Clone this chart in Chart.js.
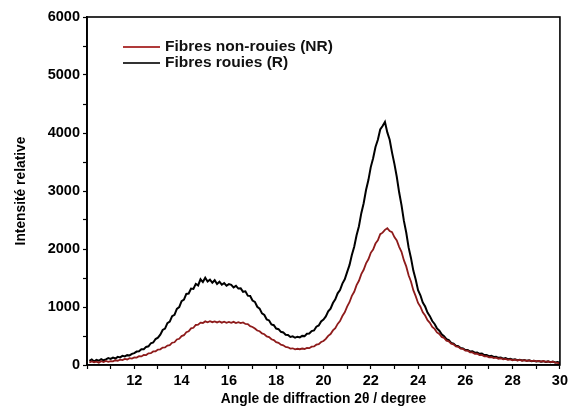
<!DOCTYPE html>
<html>
<head>
<meta charset="utf-8">
<script src="https://cdn.jsdelivr.net/npm/chart.js@4/dist/chart.umd.min.js"></script>
<style>
  html, body { margin: 0; padding: 0; background: #fff; }
  #wrap { position: relative; width: 571px; height: 412px; }
  #legend { position: absolute; left: 123px; top: 38px; font: bold 15.5px "Liberation Sans", Arial, sans-serif; color: #111; }
  #legend .item { height: 16px; line-height: 16px; white-space: nowrap; position: relative; padding-left: 42px; }
  #legend .swatch { position: absolute; left: 0; top: 8px; width: 37px; height: 1.5px; }
</style>
</head>
<body>
<div id="wrap">
  <canvas id="xrdChart" width="571" height="412"></canvas>
  <div id="legend">
    <div class="item"><span class="swatch" style="background:#b03a3a"></span>Fibres non-rouies (NR)</div>
    <div class="item"><span class="swatch" style="background:#333"></span>Fibres rouies (R)</div>
  </div>
</div>
<script>
// diffraction angle 2θ (degrees)
const angles = [
  10.1, 10.2, 10.3, 10.4, 10.5, 10.6, 10.7, 10.8, 10.9, 11.0,
  11.1, 11.2, 11.3, 11.4, 11.5, 11.6, 11.7, 11.8, 11.9, 12.0,
  12.1, 12.2, 12.3, 12.4, 12.5, 12.6, 12.7, 12.8, 12.9, 13.0,
  13.1, 13.2, 13.3, 13.4, 13.5, 13.6, 13.7, 13.8, 13.9, 14.0,
  14.1, 14.2, 14.3, 14.4, 14.5, 14.6, 14.7, 14.8, 14.9, 15.0,
  15.1, 15.2, 15.3, 15.4, 15.5, 15.6, 15.7, 15.8, 15.9, 16.0,
  16.1, 16.2, 16.3, 16.4, 16.5, 16.6, 16.7, 16.8, 16.9, 17.0,
  17.1, 17.2, 17.3, 17.4, 17.5, 17.6, 17.7, 17.8, 17.9, 18.0,
  18.1, 18.2, 18.3, 18.4, 18.5, 18.6, 18.7, 18.8, 18.9, 19.0,
  19.1, 19.2, 19.3, 19.4, 19.5, 19.6, 19.7, 19.8, 19.9, 20.0,
  20.1, 20.2, 20.3, 20.4, 20.5, 20.6, 20.7, 20.8, 20.9, 21.0,
  21.1, 21.2, 21.3, 21.4, 21.5, 21.6, 21.7, 21.8, 21.9, 22.0,
  22.1, 22.2, 22.3, 22.4, 22.5, 22.6, 22.7, 22.8, 22.9, 23.0,
  23.1, 23.2, 23.3, 23.4, 23.5, 23.6, 23.7, 23.8, 23.9, 24.0,
  24.1, 24.2, 24.3, 24.4, 24.5, 24.6, 24.7, 24.8, 24.9, 25.0,
  25.1, 25.2, 25.3, 25.4, 25.5, 25.6, 25.7, 25.8, 25.9, 26.0,
  26.1, 26.2, 26.3, 26.4, 26.5, 26.6, 26.7, 26.8, 26.9, 27.0,
  27.1, 27.2, 27.3, 27.4, 27.5, 27.6, 27.7, 27.8, 27.9, 28.0,
  28.1, 28.2, 28.3, 28.4, 28.5, 28.6, 28.7, 28.8, 28.9, 29.0,
  29.1, 29.2, 29.3, 29.4, 29.5, 29.6, 29.7, 29.8, 29.9, 30.0
];

// Fibres non-rouies (NR)
const intensityNR = [
  42, 62, 48, 58, 40, 66, 52, 70, 56, 68,
  62, 82, 74, 92, 84, 104, 96, 118, 110, 130,
  128, 152, 148, 174, 172, 202, 204, 234, 236, 266,
  270, 300, 302, 336, 342, 384, 392, 440, 452, 498,
  514, 566, 580, 632, 642, 690, 694, 730, 724, 752,
  736, 756, 738, 752, 734, 750, 730, 746, 728, 742,
  726, 744, 724, 738, 722, 734, 708, 706, 670, 656,
  630, 594, 582, 544, 530, 494, 482, 444, 430, 394,
  382, 350, 340, 312, 306, 284, 288, 270, 280, 272,
  284, 276, 294, 290, 316, 320, 350, 360, 396, 414,
  450, 502, 534, 596, 634, 708, 758, 844, 908, 1008,
  1082, 1192, 1262, 1376, 1452, 1566, 1642, 1752, 1822, 1934,
  1992, 2094, 2150, 2256, 2282, 2330, 2360, 2310, 2292, 2206,
  2148, 2038, 1952, 1808, 1700, 1548, 1440, 1290, 1188, 1070,
  1004, 908, 852, 772, 728, 658, 622, 562, 534, 484,
  466, 420, 408, 368, 356, 322, 314, 284, 278, 248,
  246, 220, 218, 194, 194, 170, 172, 150, 152, 132,
  138, 118, 126, 108, 116, 98, 106, 90, 98, 82,
  92, 78, 88, 74, 84, 70, 80, 66, 76, 62,
  72, 58, 68, 54, 62, 50, 56, 42, 38, 22
];

// Fibres rouies (R)
const intensityR = [
  72, 95, 60, 88, 74, 102, 81, 96, 118, 104,
  128, 112, 140, 131, 158, 149, 170, 166, 192, 205,
  232, 236, 270, 272, 312, 322, 375, 388, 448, 470,
  522, 604, 628, 722, 748, 842, 866, 968, 998, 1102,
  1128, 1226, 1232, 1318, 1312, 1398, 1372, 1478, 1430, 1505,
  1440, 1472, 1418, 1462, 1398, 1436, 1384, 1412, 1366, 1394,
  1382, 1338, 1364, 1318, 1322, 1262, 1270, 1196, 1190, 1112,
  1088, 1004, 972, 890, 862, 786, 768, 700, 686, 628,
  618, 572, 562, 522, 516, 484, 494, 470, 488, 476,
  502, 498, 540, 542, 584, 596, 660, 682, 752, 784,
  838, 924, 972, 1068, 1132, 1236, 1292, 1404, 1478, 1602,
  1722, 1896, 2040, 2238, 2392, 2618, 2790, 3016, 3188, 3412,
  3566, 3760, 3884, 4060, 4120, 4190, 4010, 3884, 3662, 3468,
  3246, 2978, 2756, 2488, 2284, 2028, 1846, 1628, 1474, 1290,
  1202, 1078, 1008, 904, 842, 758, 708, 632, 592, 528,
  498, 446, 428, 382, 370, 334, 324, 292, 286, 258,
  260, 232, 236, 212, 214, 192, 196, 172, 174, 152,
  158, 138, 142, 124, 128, 110, 118, 100, 108, 90,
  98, 84, 92, 78, 86, 72, 80, 66, 74, 60,
  70, 56, 66, 52, 62, 48, 58, 44, 50, 40
];

const xMin = 10, xMax = 30;
const yMin = 0, yMax = 6000;

const FONT = '"Liberation Sans", Arial, sans-serif';

function toPoints(values) {
    return angles.map((a, i) => ({ x: a, y: values[i] }));
}

// draw the closed frame around the plot area
const framePlugin = {
    id: 'frame',
    afterDatasetsDraw(chart) {
        const { ctx, chartArea: a } = chart;
        ctx.save();
        ctx.strokeStyle = '#000';
        ctx.lineWidth = 1.6;
        ctx.strokeRect(a.left, a.top, a.right - a.left, a.bottom - a.top);
        ctx.restore();
    }
};

const ctx = document.getElementById('xrdChart');
new Chart(ctx, {
    type: 'line',
    data: {
        datasets: [
            {
                label: 'Fibres non-rouies (NR)',
                data: toPoints(intensityNR),
                borderColor: '#8e1b1b',
                borderWidth: 1.8,
                pointRadius: 0,
                tension: 0
            },
            {
                label: 'Fibres rouies (R)',
                data: toPoints(intensityR),
                borderColor: '#000',
                borderWidth: 2,
                pointRadius: 0,
                tension: 0
            }
        ]
    },
    options: {
        responsive: false,
        animation: false,
        layout: { padding: { left: 0, top: 17, right: 11, bottom: 0 } },
        plugins: {
            legend: { display: false },
            tooltip: { enabled: false }
        },
        scales: {
            x: {
                type: 'linear',
                min: xMin,
                max: xMax,
                afterFit(scale) { scale.height = 47; },
                border: { display: true, color: '#000', width: 1.6 },
                grid: { drawOnChartArea: false, drawTicks: true, tickLength: 4, color: '#000', tickWidth: 1.2 },
                ticks: {
                    stepSize: 1,
                    autoSkip: false,
                    maxRotation: 0,
                    padding: 3,
                    color: '#000',
                    font: { family: FONT, size: 14.5, weight: 'bold' },
                    callback: v => {
                        const n = Math.round(v);
                        return (n % 2 === 0 && n !== xMin) ? n : '';
                    }
                },
                title: {
                    display: true,
                    text: 'Angle de diffraction 2θ / degree',
                    color: '#000',
                    font: { family: FONT, size: 13.8, weight: 'bold' },
                    padding: { top: 0, bottom: 4.5 }
                }
            },
            y: {
                min: yMin,
                max: yMax,
                afterFit(scale) { scale.width = 87; },
                border: { display: true, color: '#000', width: 1.8 },
                grid: { drawOnChartArea: false, drawTicks: true, tickLength: 4, color: '#000', tickWidth: 1.2 },
                ticks: {
                    stepSize: 500,
                    autoSkip: false,
                    padding: 3,
                    color: '#000',
                    font: { family: FONT, size: 14.5, weight: 'bold' },
                    callback: v => (Math.round(v) % 1000 === 0 ? Math.round(v) : '')
                },
                title: {
                    display: true,
                    text: 'Intensité relative',
                    color: '#000',
                    font: { family: FONT, size: 13.8, weight: 'bold' },
                    padding: { top: 12.5, bottom: 0 }
                }
            }
        }
    },
    plugins: [framePlugin]
});
</script>
</body>
</html>
